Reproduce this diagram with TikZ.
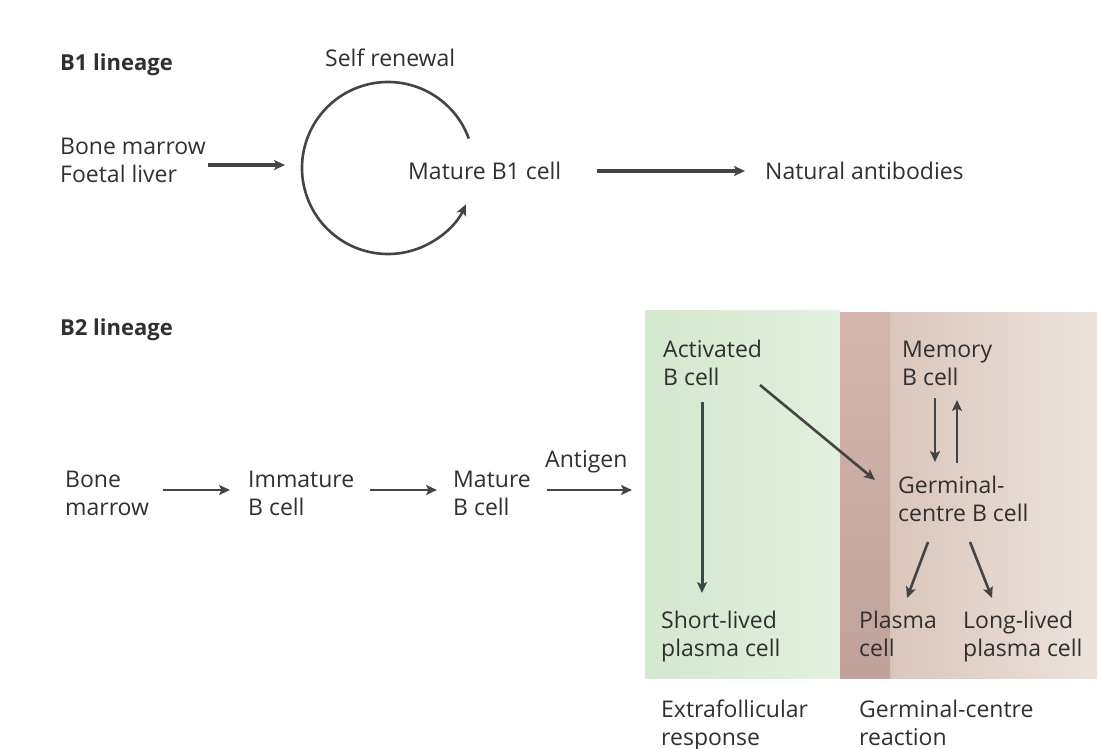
\documentclass[tikz,border=0pt]{standalone}
\usepackage{fontspec}
\setmainfont{Open Sans}
\usetikzlibrary{arrows.meta}
\definecolor{ink}{HTML}{303030}
\definecolor{arrowc}{HTML}{444444}
\definecolor{slate}{RGB}{58,72,72}
\definecolor{greenL}{RGB}{212,231,207}
\definecolor{greenR}{RGB}{227,240,223}
\definecolor{brownS}{RGB}{208,176,168}
\definecolor{brownL}{RGB}{218,198,188}
\definecolor{brownR}{RGB}{236,227,221}
\newcommand\twoline[2]{\vtop{\hbox{#1}\hbox{#2}}}
\tikzset{
  lbl/.style={anchor=base west, inner sep=0pt, text=ink, font=\fontsize{23}{28}\selectfont},
  headlbl/.style={lbl, font=\fontsize{22}{28}\selectfont\bfseries},
  arr/.style={draw=arrowc, line width=2.6pt, -{Stealth[length=11pt,width=10pt,inset=2.5pt]}},
  thickarr/.style={arr, line width=3.4pt},
}
\begin{document}
\begin{tikzpicture}[x=1pt,y=1pt]
\useasboundingbox (0,0) rectangle (1101,-749);
\fill[white] (0,0) rectangle (1101,-749);
% ---------- B1 lineage ----------
\node[headlbl] (b1) at (60,-71) {B1 lineage};
\node[lbl] (sr) at (325,-67) {Self renewal};
\node[lbl] (bmfl) at (60,-155) {\twoline{Bone marrow}{Foetal liver}};
\node[lbl] (mb1) at (408,-179) {Mature B1 cell};
\node[lbl] (nab) at (765,-179) {Natural antibodies};
\coordinate (a1s) at (208,-165);
\coordinate (a1e) at (285,-165);
\coordinate (a2s) at (597,-171);
\coordinate (a2e) at (745,-171);
\draw[thickarr] (a1s) -- (a1e);
\draw[thickarr] (a2s) -- (a2e);
\coordinate (cc) at (388,-168);
\draw[arr] (cc) ++(20:86) arc[start angle=20, end angle=335, radius=86];
% ---------- B2 lineage ----------
\node[headlbl] (b2) at (60,-335) {B2 lineage};
\node[lbl] (bm2) at (65,-487) {\twoline{Bone}{marrow}};
\node[lbl] (imm) at (248,-487) {\twoline{Immature}{B cell}};
\node[lbl] (mat) at (453,-487) {\twoline{Mature}{B cell}};
\node[lbl] (ant) at (545,-467) {Antigen};
\coordinate (b1s) at (163,-490); \coordinate (b1e) at (230,-490);
\coordinate (b2s) at (370,-490); \coordinate (b2e) at (437,-490);
\coordinate (b3s) at (547,-490); \coordinate (b3e) at (632,-490);
\draw[arr] (b1s) -- (b1e);
\draw[arr] (b2s) -- (b2e);
\draw[arr] (b3s) -- (b3e);
% boxes
\shade[left color=greenL, right color=greenR] (645,-310) rectangle (840,-678);
\shade[left color=brownL, right color=brownR] (890,-312) rectangle (1097,-678);
\shade[top color=brownS!92!white, bottom color=brownS!92!black] (840,-312) rectangle (890,-678);
\node[lbl] (act) at (663,-357) {\twoline{Activated}{B cell}};
\node[lbl] (mem) at (902,-357) {\twoline{Memory}{B cell}};
\node[lbl] (gc) at (898,-493) {\twoline{Germinal-}{centre B cell}};
\node[lbl] (slp) at (661,-628) {\twoline{Short-lived}{plasma cell}};
\node[lbl] (pc) at (859,-628) {\twoline{Plasma}{cell}};
\node[lbl] (llp) at (963,-628) {\twoline{Long-lived}{plasma cell}};
\node[lbl] (ef) at (661,-717) {\twoline{Extrafollicular}{response}};
\node[lbl] (gcr) at (859,-717) {\twoline{Germinal-centre}{reaction}};
\coordinate (v1s) at (702,-402); \coordinate (v1e) at (702,-593);
\coordinate (d1s) at (760,-385); \coordinate (d1e) at (875,-480);
\coordinate (m1s) at (935,-398); \coordinate (m1e) at (935,-462);
\coordinate (m2s) at (957,-463); \coordinate (m2e) at (957,-400);
\coordinate (p1s) at (928,-542); \coordinate (p1e) at (907,-598);
\coordinate (p2s) at (970,-542); \coordinate (p2e) at (992,-598);
\draw[arr, draw=slate, line width=3pt] (v1s) -- (v1e);
\draw[arr] (d1s) -- (d1e);
\draw[arr] (m1s) -- (m1e);
\draw[arr] (m2s) -- (m2e);
\draw[arr] (p1s) -- (p1e);
\draw[arr] (p2s) -- (p2e);
\end{tikzpicture}
\end{document}
